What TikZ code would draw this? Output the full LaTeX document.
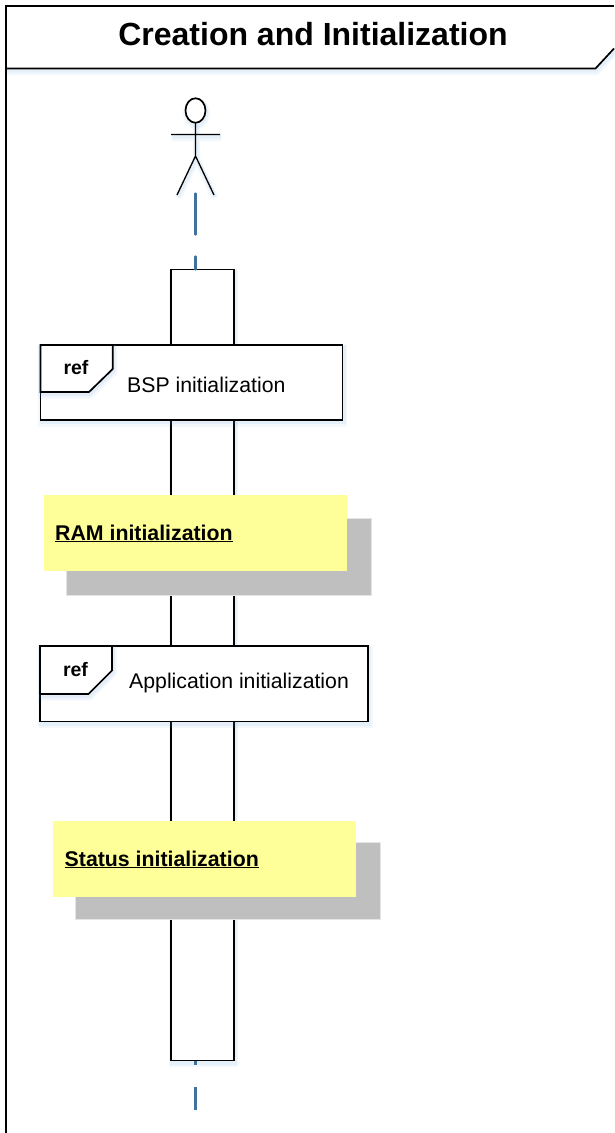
\documentclass[tikz,border=0pt]{standalone}
\usepackage{fontspec}
\usetikzlibrary{shapes.geometric}
\setmainfont{Liberation Sans}
\definecolor{lifeblue}{HTML}{41719C}
\definecolor{glow}{HTML}{5B9BD5}
\definecolor{notey}{HTML}{FFFF99}
\definecolor{noteshade}{HTML}{BFBFBF}
\tikzset{
  softshadow/.style={
    preaction={draw=glow,opacity=.07,line width=7pt,fill=none,transform canvas={shift={(1pt,-3pt)}}},
    preaction={draw=glow,opacity=.09,line width=4pt,fill=none,transform canvas={shift={(1pt,-2pt)}}}},
  blackline/.style={draw=black,line width=1.7pt,line join=miter},
  activation/.style={blackline,softshadow,fill=white,inner sep=0pt,outer sep=0pt,minimum width=62.5pt,minimum height=791pt,anchor=north west},
  refbox/.style={blackline,softshadow,fill=white,inner sep=0pt,outer sep=0pt,anchor=north west},
  notebox/.style={fill=notey,inner sep=0pt,outer sep=0pt,anchor=north west},
  noteback/.style={fill=noteshade,draw=noteshade!40!white,line width=.8pt,inner sep=0pt,outer sep=0pt,anchor=north west},
  reflabel/.style={inner sep=0pt,font=\fontsize{19.5}{20}\selectfont\bfseries},
  bodylabel/.style={inner sep=0pt,anchor=base west,font=\fontsize{21.25}{24}\selectfont},
  notelabel/.style={inner sep=0pt,anchor=base west,font=\fontsize{21.3}{24}\selectfont\bfseries},
  lifeline/.style={draw=lifeblue,line width=2.4pt,line cap=round}
}
\begin{document}
\begin{tikzpicture}[x=1pt,y=-1pt]
\useasboundingbox (0,0) rectangle (614,1133);
% frame
\path[softshadow] (6,68.5) -- (595.5,68.5) -- (614,49);
\draw[blackline] (614,6) -- (6,6) -- (6,1133);
\draw[blackline,fill=white] (6,68.5) -- (595.5,68.5) -- (614,48.5);
\node[inner sep=0pt,anchor=base,font=\fontsize{32}{36}\selectfont\bfseries] (title) at (313,45) {Creation and Initialization};
% actor
\node[blackline,softshadow,ellipse,fill=white,inner sep=0pt,outer sep=0pt,minimum width=20pt,minimum height=24.5pt] (head) at (195.5,110.5) {};
\coordinate (handl) at (171,134.5);
\coordinate (handr) at (220,134.5);
\coordinate (hip) at (195.5,156);
\coordinate (footl) at (177,195);
\coordinate (footr) at (214,195);
\draw[line width=1.3pt,softshadow] (head.south) -- (hip) (handl) -- (handr) (footl) -- (hip) -- (footr);
% lifeline and activation
\coordinate (lifetop) at (195.5,193.5);
\coordinate (lifeend) at (195.5,1110);
\node[activation] (act) at (171.2,269.5) {};
\draw[lifeline,dash pattern=on 41pt off 22pt on 20pt] (lifetop) -- (lifetop |- act.north);
\draw[lifeline,line cap=butt,dash pattern=on 23pt off 22pt on 6pt off 100pt] (lifeend) -- (lifeend |- act.south);
% first reference
\node[refbox,minimum width=302pt,minimum height=75pt] (refa) at (40.5,345) {};
\draw[blackline,softshadow,fill=white] (refa.north west) -- (112.7,345) -- (112.7,369) -- (89,392) -- (40.5,392) -- cycle;
\node[reflabel] (refatag) at (76,368) {ref};
\node[bodylabel] (refatext) at (127,392) {BSP initialization};
% first note
\node[noteback,minimum width=305pt,minimum height=77pt] (backa) at (66,518) {};
\node[notebox,minimum width=303pt,minimum height=76pt] (notea) at (44,495) {};
\node[notelabel] (noteatext) at (55,540) {\underline{RAM initialization}};
% second reference
\node[refbox,minimum width=328pt,minimum height=75.5pt] (refb) at (40,646) {};
\draw[blackline,softshadow,fill=white] (refb.north west) -- (112,646) -- (112,670.5) -- (88.5,694) -- (40,694) -- cycle;
\node[reflabel] (refbtag) at (75.5,670) {ref};
\node[bodylabel] (refbtext) at (129,688) {Application initialization};
% second note
\node[noteback,minimum width=304.5pt,minimum height=76.5pt] (backb) at (75.5,842.5) {};
\node[notebox,minimum width=303pt,minimum height=76pt] (noteb) at (53,821) {};
\node[notelabel] (notebtext) at (64.5,866) {\underline{Status initialization}};
\end{tikzpicture}
\end{document}
